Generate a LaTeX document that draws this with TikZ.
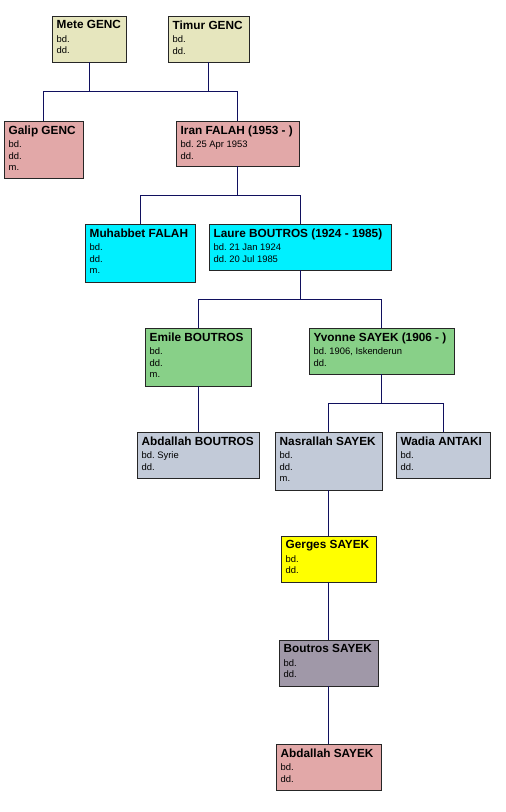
\documentclass[tikz,border=0pt]{standalone}
\usepackage{fontspec}
\setmainfont{Liberation Sans}
\usetikzlibrary{shadows}
\frenchspacing
\definecolor{khaki}{HTML}{E6E6BE}
\definecolor{pinkc}{HTML}{E2A8A8}
\definecolor{cyanc}{HTML}{00F0FF}
\definecolor{greenc}{HTML}{88D088}
\definecolor{greyc}{HTML}{C2CAD8}
\definecolor{yellowc}{HTML}{FFFF00}
\definecolor{mauvec}{HTML}{A098A8}
\definecolor{linec}{HTML}{10105E}
\tikzset{
  pbox/.style={draw=black!85, line width=0.9pt, inner sep=0pt, outer sep=0pt,
    anchor=north west,
    drop shadow={shadow xshift=1.3pt, shadow yshift=-1.3pt, fill=black!85, opacity=1}},
  ptext/.style={anchor=north west, inner sep=0pt, align=left,
    font=\fontsize{9.4}{11.5}\selectfont},
  link/.style={draw=linec, line width=1pt}
}
\newcommand\pname[1]{{\fontsize{11.8}{11.8}\selectfont\bfseries #1}\\[2pt]}
\newcommand\person[7]{%
  \node[pbox, fill=#6, minimum width={#4-#2}, minimum height={#5-#3}] (#1) at (#2,-#3) {};
  \node[ptext] (#1t) at ([shift={(4.5,-4.3)}]#1.north west) {#7};
}
\begin{document}
\begin{tikzpicture}[x=1pt,y=1pt]
\fill[white] (0,0) rectangle (506,-812);
\useasboundingbox (0,0) rectangle (506,-812);

\person{mete}{52}{16}{126}{62}{khaki}{\pname{Mete GENC}bd.\\dd.}
\person{timur}{168}{16}{249}{62}{khaki}{\pname{Timur GENC}bd.\\dd.}
\person{galip}{4}{121}{83}{178}{pinkc}{\pname{Galip GENC}bd.\\dd.\\m.}
\person{iran}{176}{121}{299}{166}{pinkc}{\pname{Iran FALAH (1953 - )}bd. 25 Apr 1953\\dd.}
\person{muhabbet}{85}{224}{195}{282}{cyanc}{\pname{Muhabbet FALAH}bd.\\dd.\\m.}
\person{laure}{209}{224}{391}{270}{cyanc}{\pname{Laure BOUTROS (1924 - 1985)}bd. 21 Jan 1924\\dd. 20 Jul 1985}
\person{emile}{145}{328}{251}{386}{greenc}{\pname{Emile BOUTROS}bd.\\dd.\\m.}
\person{yvonne}{309}{328}{454}{374}{greenc}{\pname{Yvonne SAYEK (1906 - )}bd. 1906, Iskenderun\\dd.}
\person{abdallahb}{137}{432}{259}{478}{greyc}{\pname{Abdallah BOUTROS}bd. Syrie\\dd.}
\person{nasrallah}{275}{432}{382}{490}{greyc}{\pname{Nasrallah SAYEK}bd.\\dd.\\m.}
\person{wadia}{396}{432}{490}{478}{greyc}{\pname{Wadia ANTAKI}bd.\\dd.}
\person{gerges}{281}{536}{376}{582}{yellowc}{\pname{Gerges SAYEK}bd.\\dd.}
\person{boutros}{279}{640}{378}{686}{mauvec}{\pname{Boutros SAYEK}bd.\\dd.}
\person{abdallahs}{276}{744}{381}{790}{pinkc}{\pname{Abdallah SAYEK}bd.\\dd.}

\coordinate (j1) at (89,-91.5);
\coordinate (j2) at (237.5,-195.5);
\coordinate (j3) at (300,-299.5);
\coordinate (j4) at (381.5,-403.5);

\draw[link] (mete.south) -- (mete.south |- j1);
\draw[link] (timur.south) -- (timur.south |- j1);
\draw[link] (galip.north) |- (j1) -| (iran.north);
\draw[link] (iran.south) -- (iran.south |- j2);
\draw[link] (muhabbet.north) |- (j2) -| (laure.north);
\draw[link] (laure.south) -- (laure.south |- j3);
\draw[link] (emile.north) |- (j3) -| (yvonne.north);
\draw[link] (emile.south) -- (abdallahb.north);
\draw[link] (yvonne.south) -- (yvonne.south |- j4);
\draw[link] (nasrallah.north) |- (j4) -| (wadia.north);
\draw[link] (nasrallah.south) -- (gerges.north);
\draw[link] (gerges.south) -- (boutros.north);
\draw[link] (boutros.south) -- (abdallahs.north);
\end{tikzpicture}
\end{document}
